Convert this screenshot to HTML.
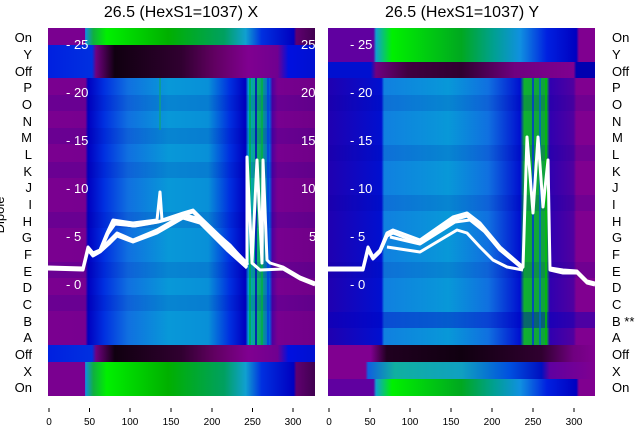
<!DOCTYPE html>
<html><head><meta charset="utf-8"><style>
body{margin:0;background:#fff;width:640px;height:440px;overflow:hidden}
svg{display:block;font-family:"Liberation Sans","DejaVu Sans",sans-serif}
</style></head><body>
<svg width="640" height="440" viewBox="0 0 640 440">
<defs>
<linearGradient id="gOn" x1="48" x2="315" gradientUnits="userSpaceOnUse">
<stop offset="0" stop-color="#7a0090"/><stop offset="0.138" stop-color="#7a0090"/><stop offset="0.14" stop-color="#1090e0"/><stop offset="0.17" stop-color="#10b040"/><stop offset="0.22" stop-color="#00f000"/><stop offset="0.45" stop-color="#00b000"/><stop offset="0.66" stop-color="#00a060"/><stop offset="0.74" stop-color="#10a0d0"/><stop offset="0.8" stop-color="#0030e0"/><stop offset="0.92" stop-color="#0000c0"/><stop offset="0.93" stop-color="#600070"/><stop offset="1" stop-color="#400050"/></linearGradient>
<linearGradient id="gOff" x1="48" x2="315" gradientUnits="userSpaceOnUse">
<stop offset="0" stop-color="#0020e0"/><stop offset="0.165" stop-color="#0030e0"/><stop offset="0.18" stop-color="#700080"/><stop offset="0.25" stop-color="#100010"/><stop offset="0.5" stop-color="#300030"/><stop offset="0.62" stop-color="#600060"/><stop offset="0.75" stop-color="#800090"/><stop offset="0.86" stop-color="#700090"/><stop offset="0.9" stop-color="#0010e0"/><stop offset="1" stop-color="#0010d0"/></linearGradient>
<linearGradient id="gMid" x1="48" x2="315" gradientUnits="userSpaceOnUse">
<stop offset="0" stop-color="#7a0090"/><stop offset="0.14" stop-color="#780090"/><stop offset="0.15" stop-color="#0000c0"/><stop offset="0.21" stop-color="#0030e0"/><stop offset="0.3" stop-color="#1070e0"/><stop offset="0.45" stop-color="#0898d8"/><stop offset="0.6" stop-color="#0890d8"/><stop offset="0.68" stop-color="#0030e0"/><stop offset="0.74" stop-color="#0000c0"/><stop offset="0.75" stop-color="#00a0d0"/><stop offset="0.79" stop-color="#10b060"/><stop offset="0.83" stop-color="#0060e0"/><stop offset="0.84" stop-color="#5000a0"/><stop offset="0.86" stop-color="#780090"/><stop offset="1" stop-color="#700088"/></linearGradient>
<linearGradient id="rTop" x1="328" x2="595" gradientUnits="userSpaceOnUse">
<stop offset="0" stop-color="#6000a0"/><stop offset="0.17" stop-color="#6000a0"/><stop offset="0.18" stop-color="#10a0d0"/><stop offset="0.24" stop-color="#00f000"/><stop offset="0.5" stop-color="#00a820"/><stop offset="0.62" stop-color="#00a090"/><stop offset="0.72" stop-color="#1090e0"/><stop offset="0.82" stop-color="#0020e0"/><stop offset="0.93" stop-color="#0000c0"/><stop offset="0.94" stop-color="#800090"/><stop offset="1" stop-color="#800090"/></linearGradient>
<linearGradient id="rOffT" x1="328" x2="595" gradientUnits="userSpaceOnUse">
<stop offset="0" stop-color="#0010d0"/><stop offset="0.16" stop-color="#0010d0"/><stop offset="0.18" stop-color="#700080"/><stop offset="0.3" stop-color="#400040"/><stop offset="0.5" stop-color="#300030"/><stop offset="0.7" stop-color="#700080"/><stop offset="0.92" stop-color="#800090"/><stop offset="0.93" stop-color="#0000b0"/><stop offset="1" stop-color="#0000b0"/></linearGradient>
<linearGradient id="rMid" x1="328" x2="595" gradientUnits="userSpaceOnUse">
<stop offset="0" stop-color="#2000b0"/><stop offset="0.2" stop-color="#0010d0"/><stop offset="0.21" stop-color="#1080e0"/><stop offset="0.45" stop-color="#0898d8"/><stop offset="0.6" stop-color="#1070e0"/><stop offset="0.72" stop-color="#0010d0"/><stop offset="0.735" stop-color="#10b030"/><stop offset="0.82" stop-color="#10a040"/><stop offset="0.83" stop-color="#3000b0"/><stop offset="0.92" stop-color="#5000a0"/><stop offset="0.93" stop-color="#800090"/><stop offset="1" stop-color="#800090"/></linearGradient>
<linearGradient id="rOffB" x1="328" x2="595" gradientUnits="userSpaceOnUse">
<stop offset="0" stop-color="#800090"/><stop offset="0.16" stop-color="#800090"/><stop offset="0.22" stop-color="#200020"/><stop offset="0.5" stop-color="#100010"/><stop offset="0.8" stop-color="#300030"/><stop offset="0.92" stop-color="#700080"/><stop offset="1" stop-color="#800090"/></linearGradient>
<linearGradient id="rX" x1="328" x2="595" gradientUnits="userSpaceOnUse">
<stop offset="0" stop-color="#800090"/><stop offset="0.14" stop-color="#800090"/><stop offset="0.15" stop-color="#1060e0"/><stop offset="0.25" stop-color="#10b0a0"/><stop offset="0.5" stop-color="#10a0c0"/><stop offset="0.68" stop-color="#0050e0"/><stop offset="0.8" stop-color="#0010c0"/><stop offset="0.83" stop-color="#6000a0"/><stop offset="1" stop-color="#800090"/></linearGradient>
<clipPath id="cl"><rect x="48" y="28" width="267" height="368"/></clipPath>
<clipPath id="cr"><rect x="328" y="28" width="267" height="368"/></clipPath>
</defs>

<!-- left panel -->
<g clip-path="url(#cl)">
<rect x="48" y="28" width="267" height="17" fill="url(#gOn)"/>
<rect x="48" y="45" width="267" height="33" fill="url(#gOff)"/>
<rect x="48" y="78" width="267" height="267" fill="url(#gMid)"/>
<rect x="48" y="345" width="267" height="17" fill="url(#gOff)"/>
<rect x="48" y="362" width="267" height="34" fill="url(#gOn)"/>
<g fill="#0000a0" opacity="0.12"><rect x="48" y="95" width="267" height="16"/><rect x="48" y="128" width="267" height="16"/><rect x="48" y="162" width="267" height="16"/><rect x="48" y="212" width="267" height="16"/><rect x="48" y="262" width="267" height="16"/><rect x="48" y="295" width="267" height="16"/></g>
<g stroke-width="1.5"><line x1="250" y1="78" x2="250" y2="345" stroke="#00b040"/><line x1="256" y1="78" x2="256" y2="345" stroke="#0000c0"/><line x1="262" y1="78" x2="262" y2="345" stroke="#00b040"/><line x1="268" y1="78" x2="268" y2="345" stroke="#0040e0"/><line x1="160" y1="78" x2="160" y2="130" stroke="#10a080"/></g>
<g fill="none" stroke="#fff" stroke-width="3" stroke-linejoin="round">
<polyline points="48,267 83,268 88,247 93,253 100,250 107,233 113,220 133,223 157,220 160,192 162,220 183,213 193,210 200,217 227,243 247,263 247,157 252,263 257,160 262,263 263,160 267,260 270,263 283,267 300,277 315,283"/>
<polyline points="48,269 83,270 88,250 93,256 100,252 107,236 113,222 133,226 157,222 183,215 193,212 200,219 227,246 247,265"/>
<polyline points="100,250 110,240 117,233 133,240 157,230 183,215 200,220 227,247 247,267"/>
<polyline points="100,252 110,243 117,236 133,242 157,233 183,218 200,223 227,250 247,268"/>
<polyline points="107,235 115,224 135,226 158,222 185,215 200,219 230,245 248,265"/>
<polyline points="252,263 260,270 283,269 300,279 315,285"/>
</g>
<g fill="#fff" font-size="13"><text x="66" y="49">- 25</text><text x="66" y="97">- 20</text><text x="66" y="145">- 15</text><text x="66" y="193">- 10</text><text x="66" y="241">- 5</text><text x="66" y="289">- 0</text>
<text x="301" y="49">25</text><text x="301" y="97">20</text><text x="301" y="145">15</text><text x="301" y="193">10</text><text x="309" y="241">5</text></g>
</g>

<!-- right panel -->
<g clip-path="url(#cr)">
<rect x="328" y="28" width="267" height="34" fill="url(#rTop)"/>
<rect x="328" y="62" width="267" height="16" fill="url(#rOffT)"/>
<rect x="328" y="78" width="267" height="267" fill="url(#rMid)"/>
<g fill="#0000a0" opacity="0.12"><rect x="328" y="95" width="267" height="16"/><rect x="328" y="145" width="267" height="16"/><rect x="328" y="195" width="267" height="16"/><rect x="328" y="262" width="267" height="16"/></g>
<rect x="328" y="312" width="267" height="16" fill="#0000c0" opacity="0.4"/>
<rect x="328" y="345" width="267" height="17" fill="url(#rOffB)"/>
<rect x="328" y="362" width="267" height="17" fill="url(#rX)"/>
<rect x="328" y="379" width="267" height="17" fill="url(#rTop)"/>
<g stroke-width="1.5"><line x1="533" y1="78" x2="533" y2="345" stroke="#0030e0"/><line x1="540" y1="78" x2="540" y2="345" stroke="#0060d0"/><line x1="546" y1="78" x2="546" y2="345" stroke="#00c000"/></g>
<g fill="none" stroke="#fff" stroke-width="3" stroke-linejoin="round">
<polyline points="328,268 363,268 368,247 373,257 380,250 387,233 393,230 420,240 453,217 467,213 480,223 500,247 523,267 527,137 533,213 538,137 543,207 548,160 550,270 563,273 577,273 587,283 595,285"/>
<polyline points="328,270 363,270 368,250 373,259 380,252 387,236 393,233 420,243 453,220 467,216 480,226 500,250 523,269"/>
<polyline points="387,247 420,252 457,230 467,233 480,247 493,260 507,267 523,270"/>
<polyline points="390,237 420,244 455,222 470,220 485,232 500,250 523,268"/>
<polyline points="550,268 563,270 577,271 587,281 595,283"/>
</g>
<g fill="#fff" font-size="13"><text x="350" y="49">- 25</text><text x="350" y="97">- 20</text><text x="350" y="145">- 15</text><text x="350" y="193">- 10</text><text x="350" y="241">- 5</text><text x="350" y="289">- 0</text></g>
</g>

<!-- titles -->
<g font-size="16" text-anchor="middle" fill="#000"><text x="181" y="17">26.5 (HexS1=1037) X</text><text x="462" y="17">26.5 (HexS1=1037) Y</text></g>

<!-- row labels -->
<g font-size="13" fill="#000">
<g text-anchor="end">
<text x="32" y="42">On</text><text x="32" y="59">Y</text><text x="32" y="76">Off</text><text x="32" y="92">P</text><text x="32" y="109">O</text><text x="32" y="126">N</text><text x="32" y="142">M</text><text x="32" y="159">L</text><text x="32" y="176">K</text><text x="32" y="192">J</text><text x="32" y="209">I</text><text x="32" y="226">H</text><text x="32" y="242">G</text><text x="32" y="259">F</text><text x="32" y="276">E</text><text x="32" y="292">D</text><text x="32" y="309">C</text><text x="32" y="326">B</text><text x="32" y="342">A</text><text x="32" y="359">Off</text><text x="32" y="376">X</text><text x="32" y="392">On</text>
</g>
<text x="612" y="42">On</text><text x="612" y="59">Y</text><text x="612" y="76">Off</text><text x="612" y="92">P</text><text x="612" y="109">O</text><text x="612" y="126">N</text><text x="612" y="142">M</text><text x="612" y="159">L</text><text x="612" y="176">K</text><text x="612" y="192">J</text><text x="612" y="209">I</text><text x="612" y="226">H</text><text x="612" y="242">G</text><text x="612" y="259">F</text><text x="612" y="276">E</text><text x="612" y="292">D</text><text x="612" y="309">C</text><text x="612" y="326">B **</text><text x="612" y="342">A</text><text x="612" y="359">Off</text><text x="612" y="376">X</text><text x="612" y="392">On</text>
<text transform="translate(4,215) rotate(-90)" text-anchor="middle">Dipole</text>
</g>

<!-- x ticks -->
<g stroke="#000" stroke-width="1">
<line x1="49" y1="408" x2="49" y2="412"/><line x1="89.5" y1="408" x2="89.5" y2="412"/><line x1="130" y1="408" x2="130" y2="412"/><line x1="171" y1="408" x2="171" y2="412"/><line x1="212" y1="408" x2="212" y2="412"/><line x1="252.5" y1="408" x2="252.5" y2="412"/><line x1="293" y1="408" x2="293" y2="412"/>
<line x1="329" y1="408" x2="329" y2="412"/><line x1="370" y1="408" x2="370" y2="412"/><line x1="410" y1="408" x2="410" y2="412"/><line x1="451" y1="408" x2="451" y2="412"/><line x1="492" y1="408" x2="492" y2="412"/><line x1="533" y1="408" x2="533" y2="412"/><line x1="574" y1="408" x2="574" y2="412"/>
</g>
<g font-size="10" text-anchor="middle" fill="#000">
<text x="49" y="425">0</text><text x="89.5" y="425">50</text><text x="130" y="425">100</text><text x="171" y="425">150</text><text x="212" y="425">200</text><text x="252.5" y="425">250</text><text x="293" y="425">300</text>
<text x="329" y="425">0</text><text x="370" y="425">50</text><text x="410" y="425">100</text><text x="451" y="425">150</text><text x="492" y="425">200</text><text x="533" y="425">250</text><text x="574" y="425">300</text>
</g>
</svg>
</body></html>
